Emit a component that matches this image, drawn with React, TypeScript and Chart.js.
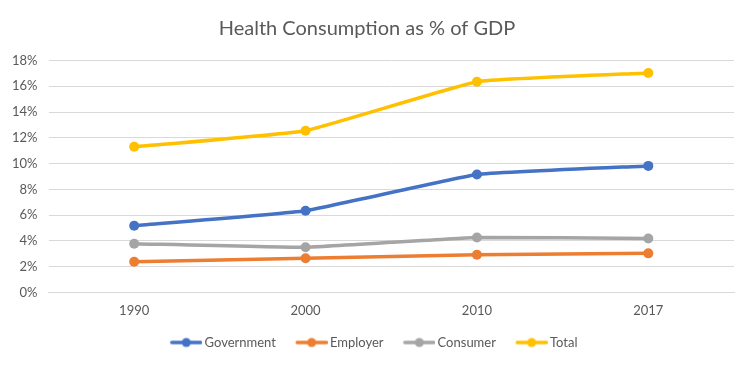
import React, { useEffect, useRef } from "react";
import { Chart, registerables } from "chart.js";

Chart.register(...registerables);

const years = ["1990", "2000", "2010", "2017"];
const government = [5.17, 6.34, 9.15, 9.82];
const employer = [2.38, 2.65, 2.92, 3.03];
const consumer = [3.78, 3.5, 4.26, 4.19];
const total = [11.3, 12.55, 16.35, 17.03];
const seriesNames = ["Government", "Employer", "Consumer", "Total"];
const yTicks = [0, 2, 4, 6, 8, 10, 12, 14, 16, 18];

const colors = ["#4472C4", "#ED7D31", "#A5A5A5", "#FFC000"];
const FONT = "Lato, 'Open Sans', sans-serif";

const BOXW = 41.5;
const IMGW = 50.5;

function legendMarker(color: string): HTMLCanvasElement {
  const c = document.createElement("canvas");
  c.width = IMGW;
  c.height = 12;
  const ctx = c.getContext("2d")!;
  const x0 = IMGW - 33;
  ctx.strokeStyle = color;
  ctx.lineWidth = 3.5;
  ctx.lineCap = "round";
  ctx.beginPath();
  ctx.moveTo(x0 + 2, 6);
  ctx.lineTo(x0 + 31, 6);
  ctx.stroke();
  ctx.fillStyle = color;
  ctx.beginPath();
  ctx.arc(x0 + 16.5, 6, 4.5, 0, Math.PI * 2);
  ctx.fill();
  return c;
}

export default function App() {
  const ref = useRef<HTMLCanvasElement>(null);
  useEffect(() => {
    const data = [government, employer, consumer, total];
    const markers = colors.map(legendMarker);
    const chart = new Chart(ref.current!, {
      type: "line",
      data: {
        labels: years,
        datasets: data.map((d, i) => ({
          label: seriesNames[i],
          data: d,
          borderColor: colors[i],
          backgroundColor: colors[i],
          borderWidth: 3.5,
          pointRadius: 5,
          pointHoverRadius: 5,
          pointBackgroundColor: colors[i],
          pointBorderWidth: 0,
          tension: 0.1,
          fill: false,
        })),
      },
      options: {
        responsive: false,
        animation: false,
        layout: { padding: { left: 0, right: 16, top: 0, bottom: 7 } },
        plugins: {
          title: {
            display: true,
            text: "Health Consumption as % of GDP",
            color: "#595959",
            font: { family: FONT, size: 20, weight: "normal" },
            padding: { top: 17, bottom: 19.5 },
          },
          legend: {
            position: "bottom",
            labels: {
              usePointStyle: true,
              pointStyleWidth: BOXW,
              boxHeight: 12,
              padding: 6,
              color: "#595959",
              font: { family: FONT, size: 13 },
              generateLabels: (ch: any) =>
                ch.data.datasets.map((ds: any, i: number) => ({
                  text: ds.label,
                  fillStyle: colors[i],
                  strokeStyle: colors[i],
                  lineWidth: 0,
                  pointStyle: markers[i],
                  datasetIndex: i,
                  hidden: false,
                  fontColor: "#595959",
                })),
            },
          },
          tooltip: { enabled: false },
        },
        scales: {
          x: {
            offset: true,
            grid: { display: false, drawTicks: false },
            border: { display: true, color: "#D9D9D9", width: 1 },
            ticks: {
              color: "#595959",
              font: { family: FONT, size: 13 },
              padding: 11,
            },
          },
          y: {
            min: 0,
            max: 18,
            afterFit: (s: any) => {
              s.width = 48.5;
            },
            afterBuildTicks: (s: any) => {
              s.ticks = yTicks.map((v) => ({ value: v }));
            },
            grid: { color: "#D9D9D9", lineWidth: 1, drawTicks: false },
            border: { display: false },
            ticks: {
              stepSize: 2,
              color: "#595959",
              font: { family: FONT, size: 13 },
              padding: 11,
              callback: (v: any) => v + "%",
            },
          },
        },
      },
    });
    return () => chart.destroy();
  }, []);
  return (
    <div style={{ position: "fixed", left: 0, top: 0, width: 750, height: 366, background: "#fff" }}>
      <canvas ref={ref} width={750} height={366} />
    </div>
  );
}
